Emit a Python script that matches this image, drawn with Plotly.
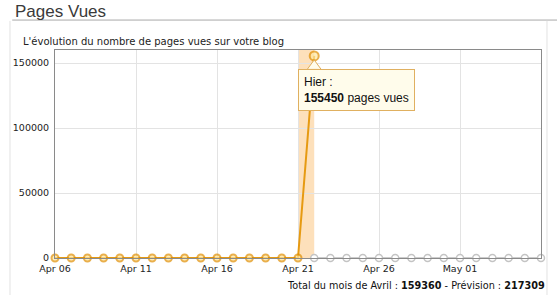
import plotly.graph_objects as go
import pandas as pd

# Data
actual_dates = pd.date_range("2010-04-06", "2010-04-22").strftime("%Y-%m-%d").tolist()
actual_views = [0, 0, 0, 0, 0, 0, 0, 0, 0, 0, 0, 0, 0, 0, 0, 0, 155450]
future_dates = pd.date_range("2010-04-22", "2010-05-06").strftime("%Y-%m-%d").tolist()
future_views = [0] * len(future_dates)
x_tickvals = ["2010-04-06", "2010-04-11", "2010-04-16", "2010-04-21", "2010-04-26", "2010-05-01"]
x_ticktext = ["Apr 06", "Apr 11", "Apr 16", "Apr 21", "Apr 26", "May 01"]
y_tickvals = [0, 50000, 100000, 150000]
y_ticktext = ["0", "50000", "100000", "150000"]
total_month = 159360
forecast = 217309
hover_label = "Hier :"

fig = go.Figure()

fig.add_trace(go.Scatter(
    x=future_dates, y=future_views, mode="lines+markers",
    line=dict(color="#CCCCCC", width=2),
    marker=dict(size=7, color="white", line=dict(color="#C4C4C4", width=1.5)),
    cliponaxis=False, hoverinfo="skip", showlegend=False))

sizes = [7] * (len(actual_dates) - 1) + [9]
fig.add_trace(go.Scatter(
    x=actual_dates, y=actual_views, mode="lines+markers",
    line=dict(color="#E69A12", width=2),
    marker=dict(size=sizes, color="#FFE7A0", line=dict(color="#E08E00", width=2)),
    cliponaxis=False, hoverinfo="skip", showlegend=False))

peak_x = actual_dates[-1]
peak_y = actual_views[-1]

shapes = [
    # highlighted day band
    dict(type="rect", xref="x", yref="paper", x0=actual_dates[-2], x1=peak_x, y0=0, y1=1,
         fillcolor="#FCCB8E", opacity=0.6, line=dict(width=0), layer="below"),
    # title underline
    dict(type="line", xref="paper", yref="paper", x0=-0.088, x1=1.04, y0=1.144, y1=1.144,
         line=dict(color="#A8A8A8", width=1)),
    # panel borders
    dict(type="line", xref="paper", yref="paper", x0=-0.0926, x1=-0.0926, y0=-0.18, y1=1.14,
         line=dict(color="#E2E2E2", width=1)),
    dict(type="line", xref="paper", yref="paper", x0=1.0123, x1=1.0123, y0=-0.18, y1=1.14,
         line=dict(color="#E2E2E2", width=1)),
    # tooltip pointer
    dict(type="path", xref="x", yref="y", xsizemode="pixel", ysizemode="pixel",
         xanchor=peak_x, yanchor=peak_y,
         path="M -7 -13.5 L 0 -4 L 7 -13.5 Z",
         fillcolor="#FFFCEB", line=dict(color="#E0B060", width=1)),
]

annotations = [
    dict(text="Pages Vues", xref="paper", yref="paper", x=-0.086, y=1.183,
         xanchor="left", yanchor="middle", showarrow=False,
         font=dict(family="Liberation Sans, Arial", size=17, color="#3A3A3A")),
    dict(text="L'évolution du nombre de pages vues sur votre blog", xref="paper", yref="paper",
         x=-0.07, y=1.043, xanchor="left", yanchor="middle", showarrow=False,
         font=dict(family="DejaVu Sans, Verdana", size=10, color="#222222")),
    dict(text=f"Total du mois de Avril : <b>{total_month}</b> - Prévision : <b>{forecast}</b>",
         xref="paper", yref="paper", x=1.012, y=-0.13, xanchor="right", yanchor="middle",
         showarrow=False, font=dict(family="DejaVu Sans, Verdana", size=9.7, color="#111111")),
    dict(text=f"{hover_label}<br><b>{peak_y}</b> pages vues", xref="x", yref="y",
         x=peak_x, y=peak_y, xanchor="left", yanchor="top", xshift=-16, yshift=-13,
         showarrow=False, align="left", bgcolor="#FFFCEB", bordercolor="#E0B060",
         borderwidth=1, borderpad=5,
         font=dict(family="Liberation Sans, Arial", size=12, color="#111111")),
]

fig.update_layout(
    width=557, height=295,
    margin=dict(l=55, r=16, t=50, b=37),
    paper_bgcolor="white", plot_bgcolor="white",
    shapes=shapes, annotations=annotations,
    xaxis=dict(type="date", range=["2010-04-06", "2010-05-06"],
               tickvals=x_tickvals, ticktext=x_ticktext,
               showgrid=True, gridcolor="#E3E3E3", gridwidth=1,
               showline=True, linecolor="#8A8A8A", mirror=True, linewidth=1,
               ticks="", ticklabelstandoff=2, zeroline=False,
               tickfont=dict(family="DejaVu Sans, Verdana", size=9.5, color="#222222")),
    yaxis=dict(range=[0, 160000], tickvals=y_tickvals, ticktext=y_ticktext,
               showgrid=True, gridcolor="#E3E3E3", gridwidth=1,
               showline=True, linecolor="#8A8A8A", mirror=True, linewidth=1,
               ticks="", zeroline=False, ticklabelstandoff=3,
               tickfont=dict(family="DejaVu Sans, Verdana", size=9.5, color="#222222")),
)

fig.write_html("out.html")
